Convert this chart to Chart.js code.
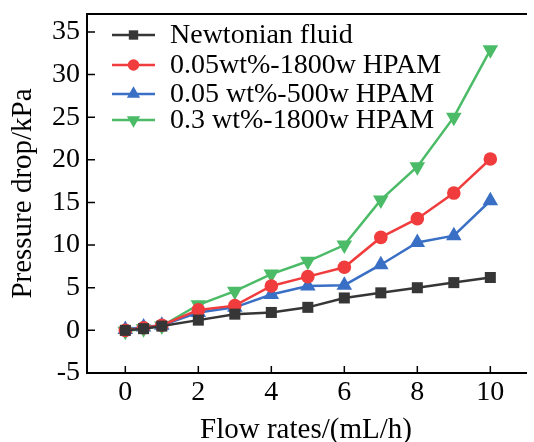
<!DOCTYPE html>
<html><head><meta charset="utf-8">
<script src="https://cdn.jsdelivr.net/npm/chart.js@4/dist/chart.umd.min.js"></script>
<style>html,body{margin:0;padding:0;background:#fff;overflow:hidden}#wrap{width:534px;height:442px}</style>
</head><body><div id="wrap"><canvas id="c" width="534" height="442"></canvas></div>
<script>
const flowRates = [0, 0.5, 1, 2, 3, 4, 5, 6, 7, 8, 9, 10];
const newtonian = [0.0, 0.2, 0.5, 1.2, 1.9, 2.1, 2.7, 3.8, 4.4, 5.0, 5.6, 6.2];
const hpam005_1800 = [0.0, 0.3, 0.6, 2.4, 2.9, 5.2, 6.3, 7.4, 10.9, 13.1, 16.1, 20.1];
const hpam005_500 = [0.1, 0.4, 0.6, 2.1, 2.7, 4.2, 5.2, 5.3, 7.7, 10.3, 11.1, 15.2];
const hpam03_1800 = [-0.1, 0.2, 0.5, 3.0, 4.6, 6.6, 8.1, 10.0, 15.3, 19.2, 25.0, 32.9];
const seriesNames = ['Newtonian fluid', '0.05wt%-1800w HPAM', '0.05 wt%-500w HPAM', '0.3 wt%-1800w HPAM'];
const xTicks = [0, 2, 4, 6, 8, 10];
const yTicks = [-5, 0, 5, 10, 15, 20, 25, 30, 35];

const FONT = "'Liberation Serif', 'Times New Roman', serif";
const pts = (arr) => flowRates.map((x, i) => ({x, y: arr[i]}));
function ds(label, data, color, style, r, rot) {
  return {label, data: pts(data), borderColor: color, backgroundColor: color, borderWidth: 2.5,
    pointStyle: style, pointRadius: r, pointHoverRadius: r, pointRotation: rot || 0,
    pointBorderWidth: 0, tension: 0, clip: false};
}
const datasets = [
  ds(seriesNames[0], newtonian, '#363636', 'rect', 7.8),
  ds(seriesNames[1], hpam005_1800, '#f03c3c', 'circle', 6.8),
  ds(seriesNames[2], hpam005_500, '#3a6fc6', 'triangle', 9),
  ds(seriesNames[3], hpam03_1800, '#4bbb67', 'triangle', 9, 180)
];

const framePlugin = {
  id: 'frame',
  afterDraw(chart) {
    const {ctx, chartArea: a, scales: {x, y}} = chart;
    ctx.save();
    ctx.strokeStyle = '#000';
    ctx.lineWidth = 2;
    ctx.beginPath();
    ctx.moveTo(a.right + 2, a.top); ctx.lineTo(a.left, a.top);
    ctx.lineTo(a.left, a.bottom); ctx.lineTo(a.right + 2, a.bottom);
    ctx.stroke();
    ctx.lineWidth = 1.5;
    ctx.beginPath();
    xTicks.forEach(v => { const px = x.getPixelForValue(v); ctx.moveTo(px, a.bottom); ctx.lineTo(px, a.bottom - 7); });
    yTicks.forEach(v => { const py = y.getPixelForValue(v); ctx.moveTo(a.left, py); ctx.lineTo(a.left + 8, py); });
    ctx.stroke();
    // legend
    const lx0 = 112, lx1 = 155, tx = 170, rows = [35, 65, 94, 120];
    ctx.font = '28px ' + FONT;
    ctx.textBaseline = 'middle';
    chart.data.datasets.forEach((d, i) => {
      const yy = rows[i];
      ctx.strokeStyle = d.borderColor; ctx.lineWidth = 2.5;
      ctx.beginPath(); ctx.moveTo(lx0, yy); ctx.lineTo(lx1, yy); ctx.stroke();
      ctx.fillStyle = d.backgroundColor;
      Chart.helpers.drawPoint(ctx, {pointStyle: d.pointStyle, radius: d.pointRadius * 0.85, rotation: d.pointRotation, borderWidth: 0}, (lx0 + lx1) / 2, yy);
      ctx.fillStyle = '#000';
      ctx.fillText(d.label, tx, yy + 1);
    });
    ctx.restore();
  }
};

new Chart(document.getElementById('c'), {
  type: 'line',
  data: {datasets},
  options: {
    responsive: false, animation: false,
    layout: {padding: {top: 14, right: 0, left: 0, bottom: 0}},
    plugins: {legend: {display: false}, tooltip: {enabled: false}},
    scales: {
      x: {type: 'linear', min: -1.05, max: 10.95,
        afterFit(s) { s.height = 69; s.paddingLeft = 0; s.paddingRight = 0; },
        afterBuildTicks(s) { s.ticks = xTicks.map(v => ({value: v})); },
        grid: {display: false, drawTicks: false, tickLength: 0}, border: {display: false},
        ticks: {font: {family: FONT, size: 28}, color: '#000', padding: 3, maxRotation: 0},
        title: {display: true, text: 'Flow rates/(mL/h)', font: {family: FONT, size: 29, lineHeight: 1.2}, color: '#000', padding: {top: 0, bottom: -6}}
      },
      y: {type: 'linear', min: -5, max: 37.1,
        afterFit(s) { s.width = 87; s.paddingTop = 0; s.paddingBottom = 0; },
        afterBuildTicks(s) { s.ticks = yTicks.map(v => ({value: v})); },
        grid: {display: false, drawTicks: false, tickLength: 0}, border: {display: false},
        ticks: {font: {family: FONT, size: 28}, color: '#000', padding: 7},
        title: {display: true, text: 'Pressure drop/kPa', font: {family: FONT, size: 29, lineHeight: 1.2}, color: '#000', padding: {top: 6, bottom: 0}}
      }
    }
  },
  plugins: [framePlugin]
});
</script></body></html>
